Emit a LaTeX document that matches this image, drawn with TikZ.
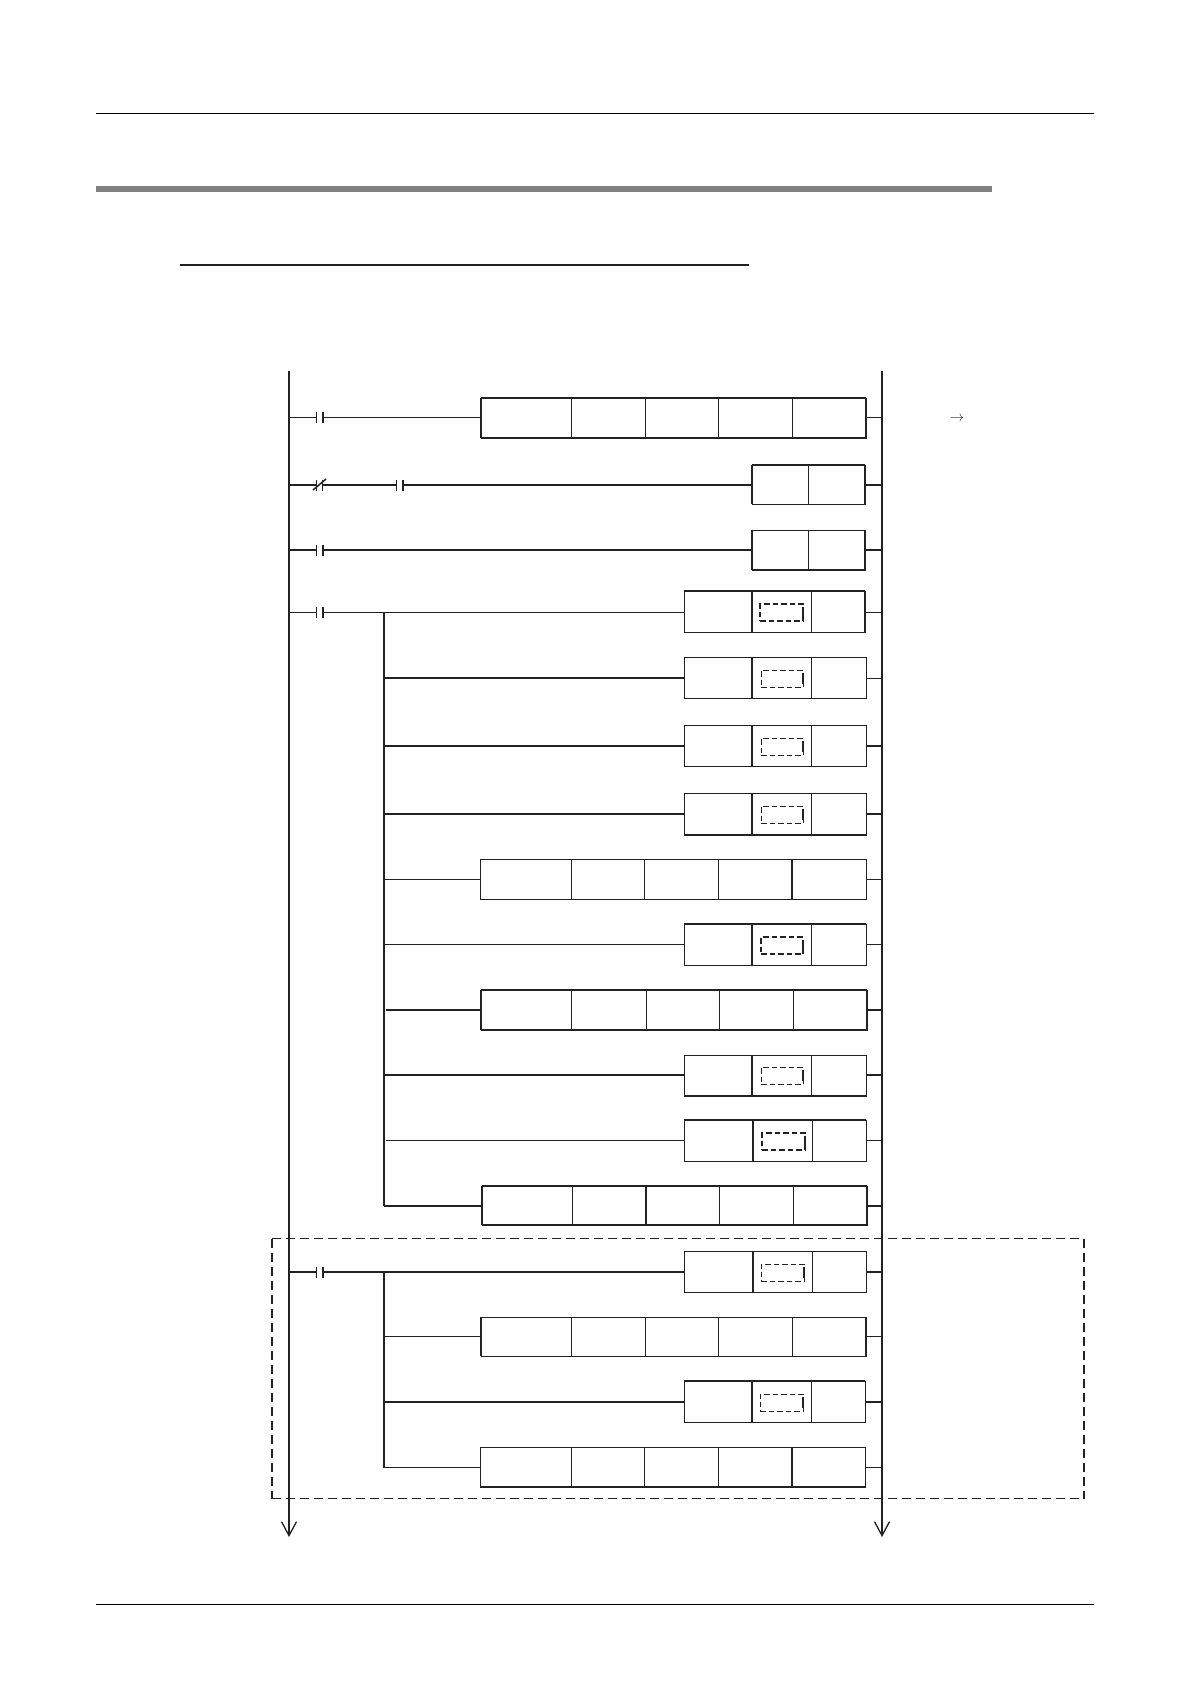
\documentclass[tikz,border=0pt]{standalone}
\usetikzlibrary{arrows.meta}
\definecolor{ink}{HTML}{222222}
\definecolor{band}{HTML}{808080}
\tikzset{
  lt/.style={draw=ink,line width=1pt},
  hv/.style={draw=ink,line width=2pt},
  hvc/.style={hv,line cap=square},
  cell/.style={rectangle,draw=ink,line width=1pt,inner sep=0pt,outer sep=0pt},
  contactnode/.style={rectangle,inner sep=0pt,outer sep=0pt,minimum width=6pt,minimum height=11pt},
  dashlt/.style={rectangle,draw=ink,line width=1pt,dash pattern=on 5.5pt off 3pt,inner sep=0pt,outer sep=0pt},
  dashhv/.style={rectangle,draw=ink,line width=1.8pt,dash pattern=on 5.5pt off 3pt,inner sep=0pt,outer sep=0pt},
  groupbox/.style={rectangle,inner sep=0pt,outer sep=0pt},
  grouptb/.style={draw=ink,line width=1pt,dash pattern=on 9pt off 5pt},
  grouplr/.style={draw=ink,line width=2pt,dash pattern=on 9pt off 5pt},
  railline/.style={draw=ink,line width=2pt,-{Straight Barb[length=14pt,width=15pt,line width=1.3pt]}},
  pagerule/.style={draw=black,line width=1pt},
}
% a single cell: name, top, bottom, x0, x1 (thin outline sits on pixel centres)
\newcommand{\onecell}[5]{%
  \node[cell,minimum width={(#5-#4)*1pt},minimum height={(#3-#2)*1pt}] (#1) at ({(#4+#5)/2+0.5},{(#2+#3)/2+0.5}) {};}
% two cells
\newcommand{\boxtwo}[6]{\onecell{#1a}{#2}{#3}{#4}{#5}\onecell{#1b}{#2}{#3}{#5}{#6}}
% three cells
\newcommand{\boxthree}[7]{\onecell{#1a}{#2}{#3}{#4}{#5}\onecell{#1b}{#2}{#3}{#5}{#6}\onecell{#1c}{#2}{#3}{#6}{#7}}
% five cells: name, top, bottom, then x0..x5
\newcommand{\boxfive}[9]{\onecell{#1a}{#2}{#3}{#4}{#5}\onecell{#1b}{#2}{#3}{#5}{#6}\onecell{#1c}{#2}{#3}{#6}{#7}\onecell{#1d}{#2}{#3}{#7}{#8}\onecell{#1e}{#2}{#3}{#8}{#9}}
% heavy edges
\tikzset{snap/.style={shift={(-0.5pt,0.5pt)}}}
\newcommand{\etop}[2]{\draw[hvc] ([snap]#1.north west) -- ([snap]#2.north east);}
\newcommand{\ebot}[2]{\draw[hvc] ([snap]#1.south west) -- ([snap]#2.south east);}
\newcommand{\eleft}[1]{\draw[hvc] ([snap]#1.north west) -- ([snap]#1.south west);}
\newcommand{\eright}[1]{\draw[hvc] ([snap]#1.north east) -- ([snap]#1.south east);}
% inner dashed box: name, style, x0, y0, x1, y1 (the right side carries a short heavy dash)
\newcommand{\dashcell}[6]{%
  \node[#2,minimum width={(#5-#3)*1pt},minimum height={(#6-#4)*1pt}] (#1) at ({(#3+#5)/2},{(#4+#6)/2}) {};
  \draw[hv] ([yshift=5.5pt]#1.east) -- ([yshift=-5.5pt]#1.east);}
% contact: name, x-centre, y
\newcommand{\contactNO}[3]{%
  \node[contactnode] (#1) at (#2,#3) {};
  \draw[lt] (#1.north west) -- (#1.south west);
  \draw[hv] (#1.north east) -- (#1.south east);}
\begin{document}
\begin{tikzpicture}[x=1pt,y=-1pt]
\useasboundingbox (0,0) rectangle (1190,1684);
\fill[white] (0,0) rectangle (1190,1684);

% page furniture
\coordinate (topA) at (96,113.5);   \coordinate (topB) at (1094,113.5);
\coordinate (botA) at (96,1604.5);  \coordinate (botB) at (1094,1604.5);
\coordinate (bandA) at (96,189);    \coordinate (bandB) at (992,189);
\coordinate (headA) at (180,265);   \coordinate (headB) at (749,265);
\draw[pagerule] (topA) -- (topB);
\draw[pagerule] (botA) -- (botB);
\draw[draw=band,line width=6pt] (bandA) -- (bandB);
\draw[draw=ink,line width=2pt] (headA) -- (headB);

% rails
\coordinate (railL) at (289,371);
\coordinate (railLend) at (289,1537);
\coordinate (railR) at (882,371);
\coordinate (railRend) at (882,1537);
\draw[railline] (railL) -- (railLend);
\draw[railline] (railR) -- (railRend);

% rung heights
\coordinate (w1) at (0,417.5);  \coordinate (w2) at (0,485);   \coordinate (w3) at (0,550);
\coordinate (w4) at (0,612.5);  \coordinate (w5) at (0,678);   \coordinate (w6) at (0,746);
\coordinate (w7) at (0,814);    \coordinate (w8) at (0,879.5); \coordinate (w9) at (0,944.5);
\coordinate (w10) at (0,1010);  \coordinate (w11) at (0,1075); \coordinate (w12) at (0,1140.5);
\coordinate (w13) at (0,1206);  \coordinate (w14) at (0,1272); \coordinate (w15) at (0,1336.5);
\coordinate (w16) at (0,1402);  \coordinate (w17) at (0,1467.5);

% boxes
\boxfive{r1}{398}{438}{481}{571}{645}{718}{792}{866}
\boxtwo{r2}{465}{504}{752}{808}{865}
\boxtwo{r3}{530}{570}{752}{808}{865}
\boxthree{r4}{591}{632}{684}{752}{811}{865}
\boxthree{r5}{657}{698}{684}{752}{811}{866}
\boxthree{r6}{725}{766}{684}{752}{811}{866}
\boxthree{r7}{793}{835}{684}{752}{811}{866}
\boxfive{r8}{859}{899}{480}{571}{644}{718}{792}{866}
\boxthree{r9}{924}{965}{684}{752}{811}{866}
\boxfive{r10}{990}{1030}{481}{571}{645.5}{718.5}{792.5}{867}
\boxthree{r11}{1055}{1096}{684}{752}{811}{866}
\boxthree{r12}{1120}{1161}{684}{753}{812}{866}
\boxfive{r13}{1186}{1225}{482}{572}{646}{719}{793}{867}
\boxthree{r14}{1251}{1292}{684}{753}{812}{866}
\boxfive{r15}{1317}{1356}{481}{571}{645}{718}{792}{866}
\boxthree{r16}{1381}{1422}{684}{752}{811}{865}
\boxfive{r17}{1447}{1487}{480}{571}{644}{718}{792}{865}

% heavy edges of the boxes
\etop{r1a}{r1e}\ebot{r1a}{r1e}\eleft{r1a}\eright{r1e}
\etop{r2a}{r2b}\eleft{r2a}\eright{r2b}
\ebot{r3a}{r3b}\eleft{r3a}\eright{r3b}
\etop{r4a}{r4c}\eleft{r4b}\eright{r4c}
\eleft{r5b}
\eleft{r6b}
\eleft{r7b}\ebot{r7a}{r7c}
\eleft{r8e}
\etop{r9a}{r9c}\eleft{r9b}
\etop{r10a}{r10e}\ebot{r10a}{r10e}\eleft{r10a}\eright{r10e}
\eleft{r11b}\ebot{r11a}{r11c}
\etop{r12a}{r12c}\eleft{r12b}
\etop{r13a}{r13e}\ebot{r13a}{r13e}\eleft{r13a}\eright{r13e}\eleft{r13c}
\eleft{r14b}
\eleft{r15a}\eright{r15e}
\etop{r16a}{r16c}\eleft{r16b}
\ebot{r17a}{r17e}\eleft{r17e}

% dashed inner boxes
\dashcell{d4}{dashhv}{760}{604}{803}{621}
\dashcell{d5}{dashlt}{761}{670}{803}{687}
\dashcell{d6}{dashlt}{761}{738}{803}{755}
\dashcell{d7}{dashlt}{761}{806}{803}{823}
\dashcell{d9}{dashhv}{761}{937}{803}{954}
\dashcell{d11}{dashlt}{761}{1067}{803}{1084}
\dashcell{d12}{dashhv}{762}{1133}{805}{1150}
\dashcell{d14}{dashlt}{761}{1264}{804}{1281}
\dashcell{d16}{dashlt}{760}{1394}{803}{1411}

% contacts
\contactNO{c1}{319.5}{417.5}
\node[contactnode] (c2) at (319.5,485) {};
\draw[lt] (c2.north west) -- (c2.south west);
\draw[lt] (c2.north east) -- (c2.south east);
\coordinate (c2s) at (313,490);
\coordinate (c2e) at (326,479);
\draw[draw=ink,line width=1.5pt] (c2s) -- (c2e);
\contactNO{c2b}{399.5}{485}
\contactNO{c3}{319.5}{550}
\contactNO{c4}{319.5}{612.5}
\contactNO{c14}{319.5}{1272}

% rungs 1 to 3
\draw[lt] (railL |- w1) -- (c1.west);
\draw[lt] (c1.east) -- (r1a.west |- w1);
\draw[lt] (r1e.east |- w1) -- (railR |- w1);
\draw[hv] (railL |- w2) -- (c2.west);
\draw[hv] (c2.east) -- (c2b.west);
\draw[hv] (c2b.east) -- (r2a.west |- w2);
\draw[hv] (r2b.east |- w2) -- (railR |- w2);
\draw[hv] (railL |- w3) -- (c3.west);
\draw[hv] (c3.east) -- (r3a.west |- w3);
\draw[hv] (r3b.east |- w3) -- (railR |- w3);

% first branch
\coordinate (busA) at (384,612.5);
\coordinate (busAend) at (384,1206);
\draw[lt] (railL |- w4) -- (c4.west);
\draw[lt] (c4.east) -- (r4a.west |- w4);
\draw[hv] (busA) -- (busAend);
\draw[lt] (r4c.east |- w4) -- (railR |- w4);
\draw[hv] (busA |- w5) -- (r5a.west |- w5);
\draw[lt] (r5c.east |- w5) -- (railR |- w5);
\draw[hv] (busA |- w6) -- (r6a.west |- w6);
\draw[hv] (r6c.east |- w6) -- (railR |- w6);
\draw[hv] (busA |- w7) -- (r7a.west |- w7);
\draw[hv] (r7c.east |- w7) -- (railR |- w7);
\draw[lt] (busA |- w8) -- (r8a.west |- w8);
\draw[lt] (r8e.east |- w8) -- (railR |- w8);
\draw[lt] (busA |- w9) -- (r9a.west |- w9);
\draw[lt] (r9c.east |- w9) -- (railR |- w9);
\draw[hv] ([xshift=2pt]busA |- w10) -- (r10a.west |- w10);
\draw[hv] (r10e.east |- w10) -- (railR |- w10);
\draw[hv] (busA |- w11) -- (r11a.west |- w11);
\draw[hv] (r11c.east |- w11) -- (railR |- w11);
\draw[lt] ([xshift=2pt]busA |- w12) -- (r12a.west |- w12);
\draw[lt] (r12c.east |- w12) -- (railR |- w12);
\draw[hv] (busAend) -- (r13a.west |- w13);
\draw[hv] (r13e.east |- w13) -- (railR |- w13);

% second branch
\coordinate (busB) at (384,1272);
\coordinate (busBend) at (384,1467.5);
\draw[hv] (railL |- w14) -- (c14.west);
\draw[hv] (c14.east) -- (r14a.west |- w14);
\draw[hv] (r14c.east |- w14) -- (railR |- w14);
\draw[hv] (busB) -- (busBend);
\draw[lt] (busB |- w15) -- (r15a.west |- w15);
\draw[lt] (r15e.east |- w15) -- (railR |- w15);
\draw[hv] (busB |- w16) -- (r16a.west |- w16);
\draw[hv] (r16c.east |- w16) -- (railR |- w16);
\draw[lt] (busBend) -- (r17a.west |- w17);
\draw[lt] (r17e.east |- w17) -- (railR |- w17);

% dashed group
\node[groupbox,minimum width=812pt,minimum height=260pt] (group) at (678,1368.5) {};
\draw[grouptb] (group.north west) -- (group.north east);
\draw[grouptb] (group.south west) -- (group.south east);
\draw[grouplr] (group.north west) -- (group.south west);
\draw[grouplr] (group.north east) -- (group.south east);

% arrow character
\node[inner sep=0pt,text=ink] (arrowch) at (957,418.5) {\fontsize{15}{15}\selectfont$\rightarrow$};
\end{tikzpicture}
\end{document}
